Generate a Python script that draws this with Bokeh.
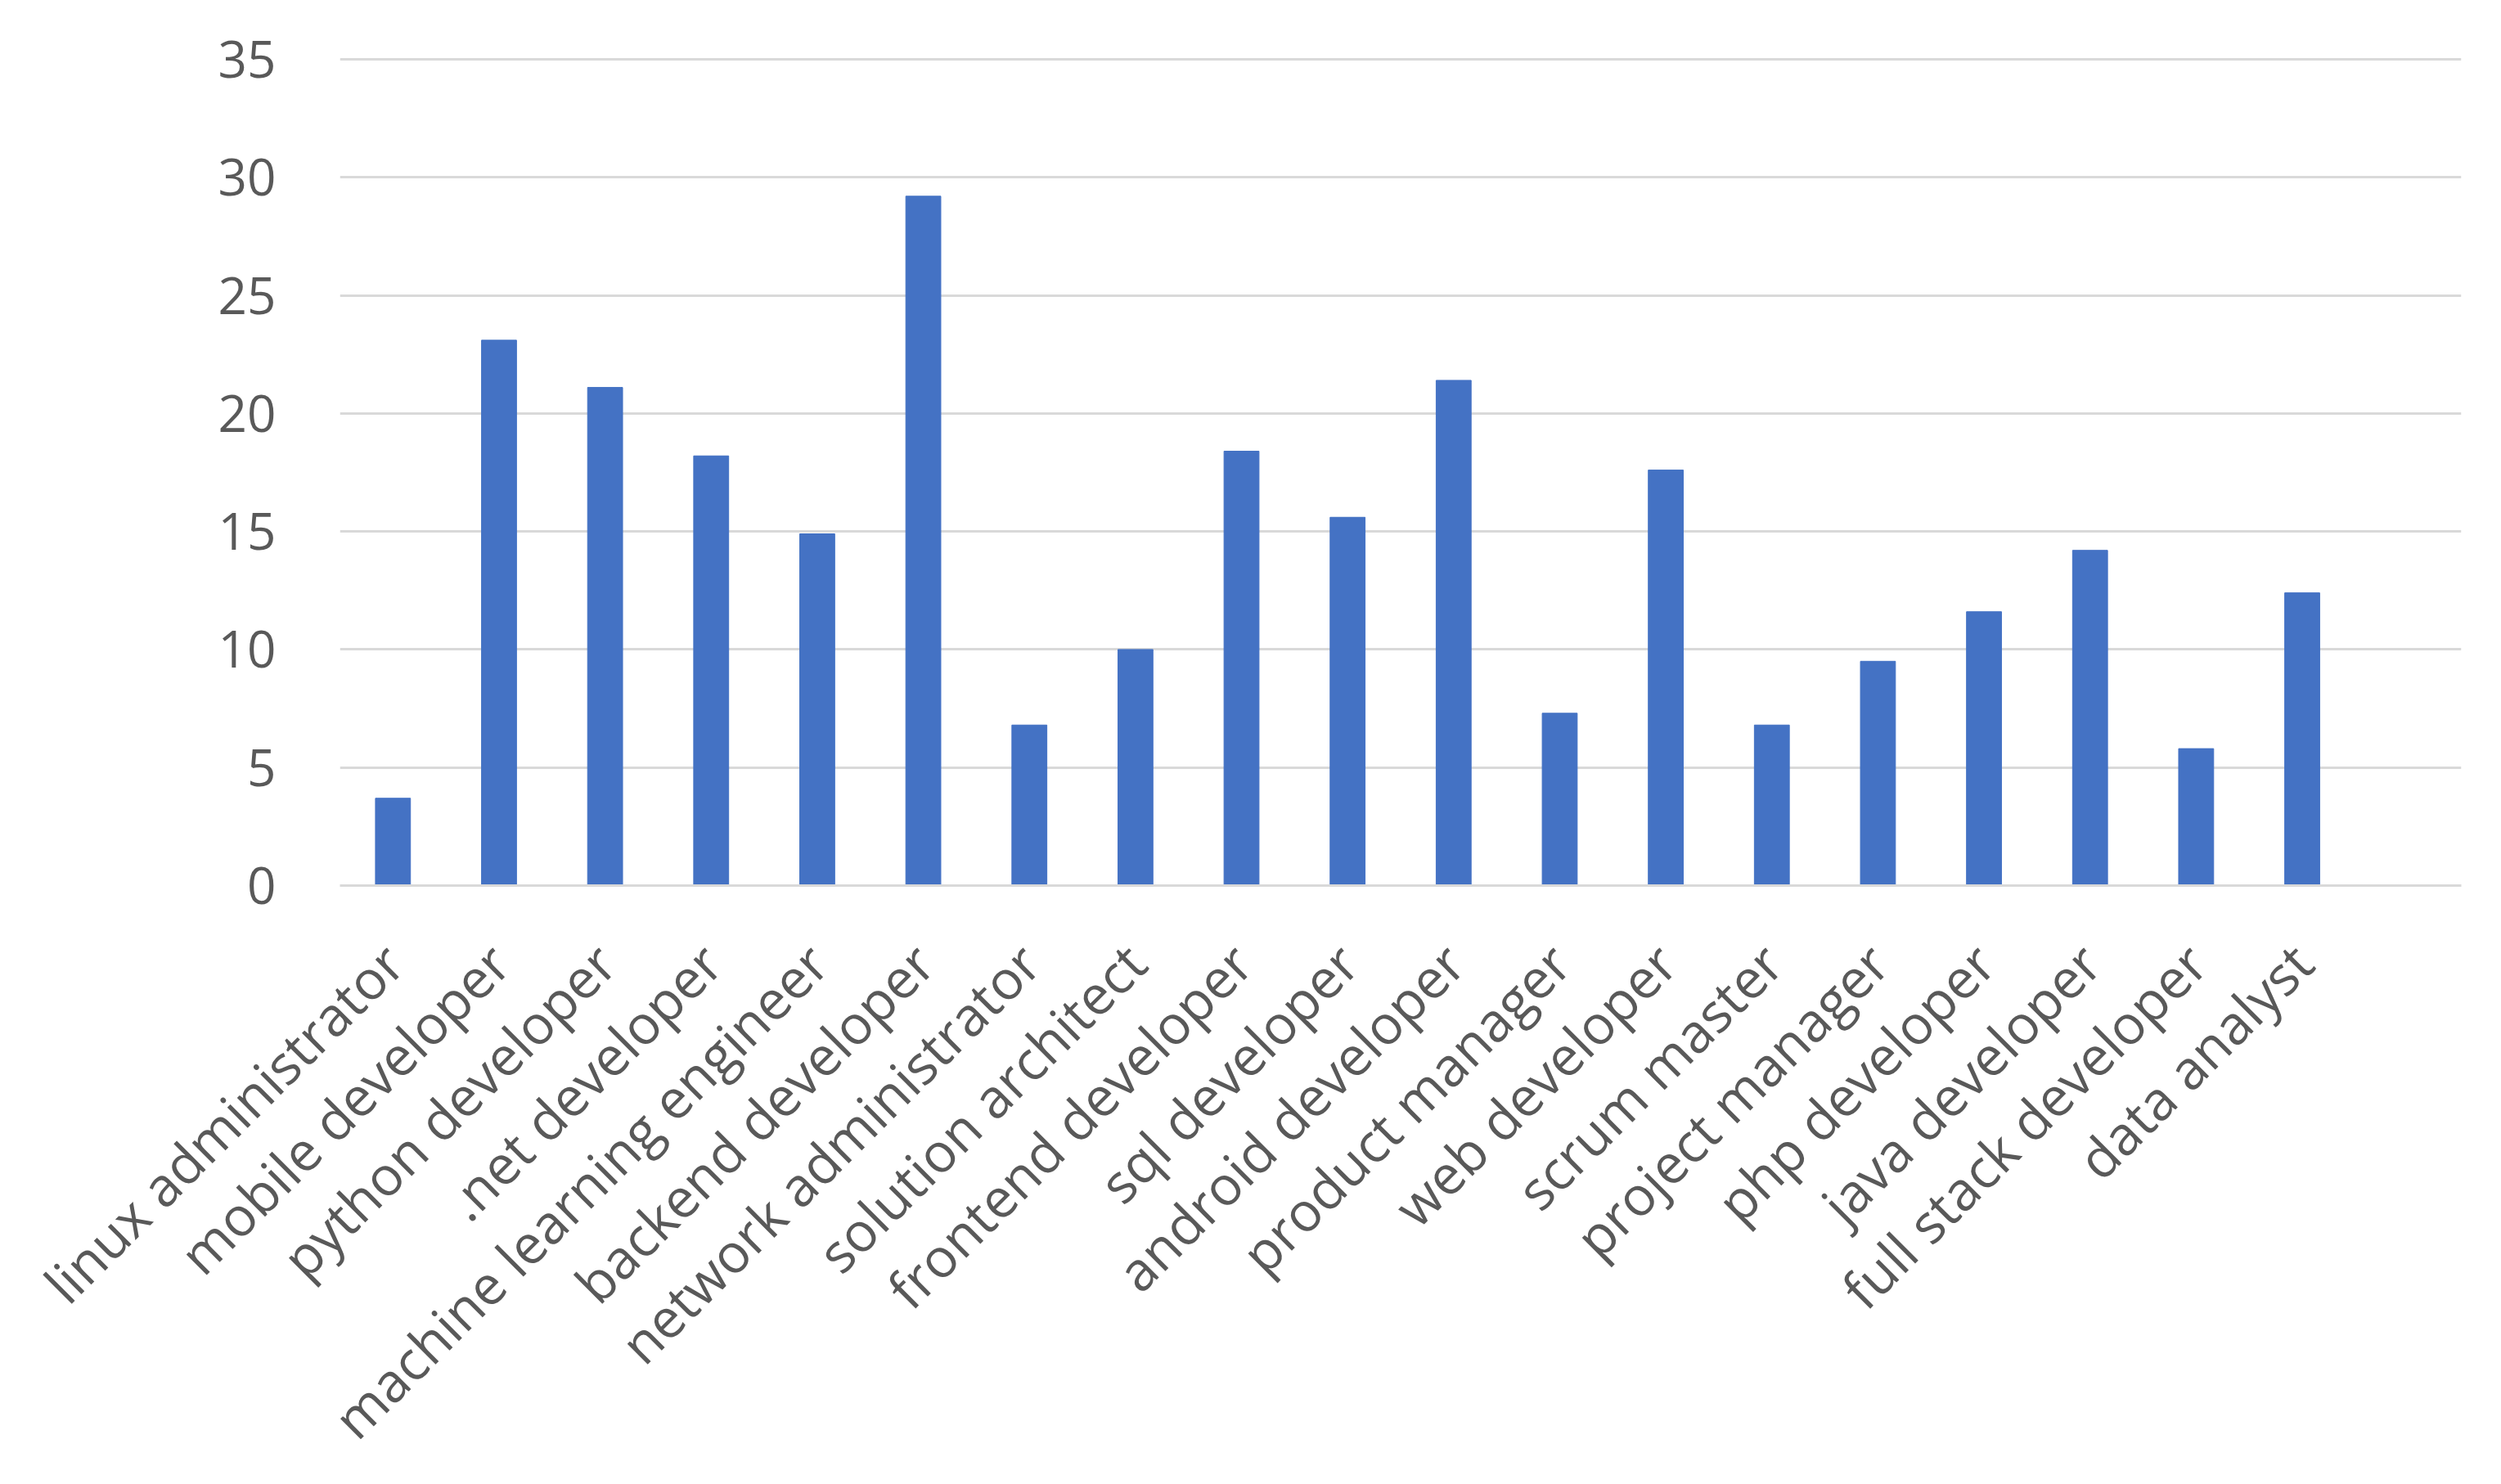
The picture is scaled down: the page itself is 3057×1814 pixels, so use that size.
import math
from bokeh.plotting import figure
from bokeh.models import FixedTicker, Range1d
from bokeh.embed import file_html
from bokeh.resources import INLINE

categories = ["linux administrator", "mobile developer", "python developer", ".net developer",
              "machine learning engineer", "backend developer", "network administrator",
              "solution architect", "frontend developer", "sql developer", "android developer",
              "product manager", "web developer", "scrum master", "project manager",
              "php developer", "java developer", "full stack developer", "data analyst"]
values = [3.7, 23.1, 21.1, 18.2, 14.9, 29.2, 6.8, 10.0, 18.4, 15.6, 21.4, 7.3, 17.6,
          6.8, 9.5, 11.6, 14.2, 5.8, 12.4]
y_ticks = [0, 5, 10, 15, 20, 25, 30, 35]

xs = list(range(1, len(categories) + 1))

p = figure(width=3048, height=1812, output_backend="svg", toolbar_location=None,
           x_range=Range1d(0.5, len(categories) + 1.5), y_range=Range1d(0, 35.31),
           min_border_left=415, min_border_right=40, min_border_top=63,
           min_border_bottom=730)
p.outline_line_color = None
p.background_fill_color = "white"
p.border_fill_color = "white"

p.vbar(x=xs, top=values, width=0.33, fill_color="#4472C4", line_color="#4472C4")

TEXT = "#595959"
FONT = "Open Sans"

p.xgrid.grid_line_color = None
p.ygrid.grid_line_color = "#d9d9d9"
p.ygrid.grid_line_width = 3
p.yaxis.ticker = FixedTicker(ticks=y_ticks)
p.yaxis.axis_line_color = None
p.yaxis.major_tick_line_color = None
p.yaxis.minor_tick_line_color = None
p.yaxis.major_label_text_font = FONT
p.yaxis.major_label_text_font_size = "62px"
p.yaxis.major_label_text_color = TEXT
p.yaxis.major_label_standoff = 72

p.xaxis.ticker = FixedTicker(ticks=xs)
p.xaxis.major_label_overrides = {x: c for x, c in zip(xs, categories)}
p.xaxis.axis_line_color = "#d9d9d9"
p.xaxis.axis_line_width = 3
p.xaxis.major_tick_line_color = None
p.xaxis.minor_tick_line_color = None
p.xaxis.major_label_orientation = math.pi / 4
p.xaxis.major_label_text_font = FONT
p.xaxis.major_label_text_font_size = "66px"
p.xaxis.major_label_text_color = TEXT
p.xaxis.major_label_standoff = 76

open("out.html", "w").write(file_html(p, INLINE))
